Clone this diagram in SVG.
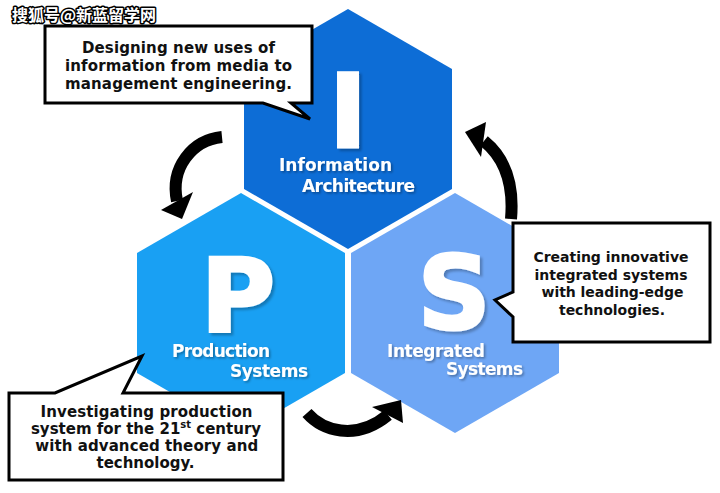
<svg xmlns="http://www.w3.org/2000/svg" width="720" height="493" viewBox="0 0 720 493">
<defs>
<filter id="sh" x="-20%" y="-20%" width="140%" height="140%">
<feDropShadow dx="1.5" dy="1.5" stdDeviation="0.8" flood-color="#000" flood-opacity="0.35"/>
</filter>
<filter id="shb" x="-20%" y="-20%" width="140%" height="140%">
<feDropShadow dx="2.5" dy="2.5" stdDeviation="1.2" flood-color="#000" flood-opacity="0.25"/>
</filter>
</defs>
<style>
.big{font-family:"DejaVu Sans","Liberation Sans",sans-serif;font-weight:bold;font-size:101px;text-anchor:middle;fill:#fff;stroke:#fff;stroke-width:3px;filter:url(#shb)}
.lbl{font-family:"DejaVu Sans","Liberation Sans",sans-serif;font-weight:bold;font-size:17px;fill:#fff;filter:url(#sh)}
.box{fill:#fff;stroke:#000;stroke-width:3;stroke-linejoin:miter}
.ct{font-family:"DejaVu Sans","Liberation Sans",sans-serif;font-weight:bold;font-size:15px;fill:#111;text-anchor:middle}
.ct14{font-size:14px}
.arr{fill:none;stroke:#000;stroke-width:12}
.head{fill:#000}
.wm{font-family:"Noto Sans CJK SC","DejaVu Sans",sans-serif;font-weight:bold;font-size:16px;fill:#fff;stroke:#000;stroke-width:3px;paint-order:stroke;stroke-linejoin:round}
</style>
<rect width="720" height="493" fill="#fff"/>
<text class="wm" x="12" y="21">搜狐号@新蓝留学网</text>

<g id="node-I">
<polygon points="348,9 452,69 452,189 348,249 244,189 244,69" fill="#0d6dd6"/>
<text class="big" x="348" y="147">I</text>
<text class="lbl" x="279" y="170.5" textLength="113">Information</text>
<text class="lbl" x="302" y="191.5" textLength="113">Architecture</text>
</g>

<g id="node-P">
<polygon points="241,193 345,253 345,373 241,433 137,373 137,253" fill="#19a0f3"/>
<text class="big" x="238" y="332">P</text>
<text class="lbl" x="172" y="357" textLength="98">Production</text>
<text class="lbl" x="230" y="377" textLength="78">Systems</text>
</g>

<g id="node-S">
<polygon points="455,193 559,253 559,373 455,433 351,373 351,253" fill="#6ea6f5"/>
<text class="big" x="454" y="329">S</text>
<text class="lbl" x="387" y="357" textLength="98">Integrated</text>
<text class="lbl" x="446" y="375" textLength="77">Systems</text>
</g>

<g id="connectors">
<path class="arr" d="M222,137 C192,140 170,168 177,201"/>
<polygon class="head" points="161,210 193,192 182,219"/>
<path class="arr" d="M511,219 C514,185 505,158 484,141"/>
<polygon class="head" points="465,132 486,122 481,157"/>
<path class="arr" d="M307,413 C322,430 355,442 388,415"/>
<polygon class="head" points="372,407 401,400 403,423"/>
</g>

<g id="callout-I">
<path class="box" d="M45,26 H312 V103 H291 L310,119 L263,103 H45 Z"/>
<text class="ct" x="178.5" y="53" textLength="193">Designing new uses of</text>
<text class="ct" x="178.5" y="71" textLength="227">information from media to</text>
<text class="ct" x="178.5" y="89" textLength="227">management engineering.</text>
</g>

<g id="callout-S">
<path class="box" d="M513,223 H710 V342 H513 V317 L495,300 L513,292 Z"/>
<text class="ct ct14" x="611" y="262" textLength="155">Creating innovative</text>
<text class="ct ct14" x="611" y="279.6" textLength="153">integrated systems</text>
<text class="ct ct14" x="612.5" y="297.3" textLength="142">with leading-edge</text>
<text class="ct ct14" x="612" y="315" textLength="106">technologies.</text>
</g>

<g id="callout-P">
<path class="box" d="M9,393 H55 L142,356 L123,393 H283 V480 H9 Z"/>
<text class="ct" x="146.5" y="417.3" textLength="212">Investigating production</text>
<text class="ct" x="146" y="434.3">system for the 21<tspan font-size="10" dy="-6">st</tspan><tspan dy="6"> century</tspan></text>
<text class="ct" x="146.7" y="451" textLength="223">with advanced theory and</text>
<text class="ct" x="145.5" y="468.3" textLength="98">technology.</text>
</g>
</svg>
